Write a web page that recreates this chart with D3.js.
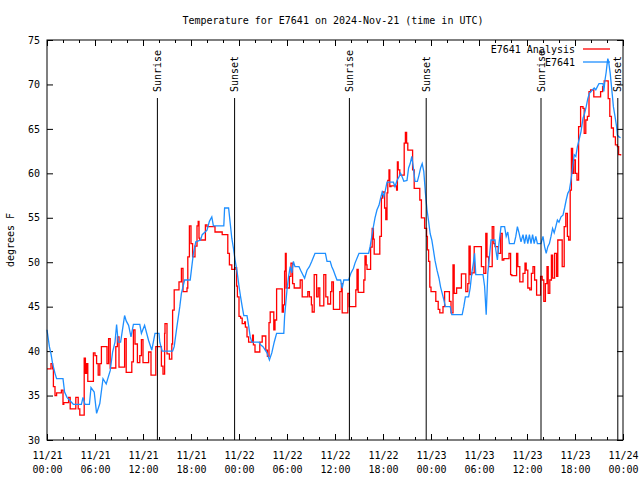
<!DOCTYPE html>
<html>
<head>
<meta charset="utf-8">
<script src="https://cdn.jsdelivr.net/npm/d3@7"></script>
<style>
  body { margin: 0; background: #fff; }
  svg text { font-family: "DejaVu Sans Mono", monospace; font-size: 10px; fill: #000; }
</style>
</head>
<body>
<div id="chart"></div>
<script>
// hours after 2024-11-21 00:00 UTC, degrees F
const analysis = [
  [0,38],[0.5,38.6],[0.7,38],[0.8,36],[1,35],[1.2,35.3],[1.8,35.6],[2.0,34],[2.1,34.2],[2.7,34.8],
  [2.9,33.5],[3.6,34.8],[3.9,33.5],[4.1,32.8],[4.65,39.2],[4.8,37.5],[4.95,38.6],[5.1,36.6],[5.8,39.8],
  [6.0,39.5],[6.2,38.6],[6.4,37.3],[6.6,38.6],[6.8,40.5],[7.3,40.5],[7.5,38.6],[7.7,41.4],[7.9,38.1],
  [8.5,38.1],[8.6,40.5],[8.8,41.6],[9.0,38.2],[9.6,38.2],[9.7,41.4],[9.9,37.6],[10.5,37.6],[10.6,38.8],
  [10.8,42.4],[11.0,40.8],[11.3,38.7],[11.6,39.5],[11.8,41.3],[12.0,38.7],[12.7,39.9],[13.0,37.3],
  [13.6,40.5],[14.3,38.3],[14.5,37.4],[14.7,42],[14.75,43.1],[15,39.7],[15.3,39.1],[15.6,40.8],
  [15.7,44.6],[15.9,46.9],[16.5,47.8],[16.8,49.3],[17.0,46.7],[17.5,47.1],[17.6,50.6],[17.8,54.1],
  [18,52.1],[18.2,50.6],[18.5,51.8],[18.75,54.1],[18.9,54.6],[19,52.7],[19.1,52.5],[19.8,54.2],
  [20,54],[21,53.4],[21.9,53.1],[22.6,51],[22.8,49.7],[23.1,49.2],[23.5,49.4],[23.7,47.3],[23.8,46.1],
  [24,43.9],[24.2,43.7],[24.4,43.1],[24.7,43.3],[24.8,42.7],[25,41.6],[25.2,41],[25.7,41.8],[25.8,40.7],
  [26,39.9],[26.6,41],[26.9,41.7],[27.35,40.1],[27.55,39.4],[27.75,43.2],[27.9,44.4],[28.35,42.4],
  [28.5,43.5],[28.7,47],[29.4,44.4],[29.55,45.2],[29.7,49],[29.8,51],[29.9,47.1],[30.3,48.4],[30.5,49.9],
  [30.7,47.6],[30.9,47.1],[31.65,48],[31.9,46.1],[32.6,46.7],[32.8,46.1],[33.05,45.2],[33.15,44.4],
  [33.4,48.6],[33.7,46.1],[33.9,47.1],[34.1,45.1],[34.6,48.6],[34.85,46.1],[35.1,45.3],[35.45,46.7],
  [35.6,47.8],[35.8,44.7],[36.6,46.7],[36.8,47.6],[36.9,44.3],[37.6,46.5],[37.8,45],[38.6,46.9],
  [38.75,49.2],[38.9,46.6],[39.6,48],[39.75,50.7],[39.9,49.7],[40,49.2],[40.45,51.7],[40.65,53.8],
  [40.8,52.6],[40.9,50.9],[41.6,52.9],[41.8,57.2],[41.95,57.9],[42.2,56.1],[42.35,54.8],[42.5,57.8],
  [42.6,59.2],[42.75,60.4],[42.85,58.5],[43,58.6],[43.7,58.1],[43.8,61.3],[43.9,60.4],[44.1,59.8],
  [44.65,63.4],[44.8,64.6],[44.95,63.4],[45.1,62.6],[45.7,60.4],[45.9,58.3],[46.6,57],[46.8,55],
  [47.2,53.8],[47.45,52.9],[47.55,51.4],[47.7,50.1],[47.85,47.2],[48,46.7],[48.6,45.6],[48.9,44.7],
  [49.1,44.3],[49.5,45],[49.7,46.7],[50.3,45.6],[50.5,44.3],[50.75,49.7],[50.9,46.5],[51.2,47.1],
  [51.8,48.7],[52.35,46.7],[52.6,47.6],[52.75,51.8],[52.9,48.6],[53.1,48.8],[53.4,51.75],[54.3,49.5],
  [54.6,48.75],[54.85,53.25],[55,50.6],[55.2,49.5],[55.65,54],[55.85,52.1],[56,51.75],[56.4,51],
  [56.7,53.25],[56.9,50.25],[57.1,50.4],[57.75,51],[57.95,48.6],[58.1,48.5],[58.7,51],[58.85,49.5],
  [59.1,47.8],[59.5,48.75],[59.75,49.9],[59.9,49.1],[60.1,47.1],[60.35,46.9],[60.55,48.75],[60.75,49.5],
  [60.95,48],[61.2,46.3],[61.7,48.4],[61.9,48],[62.1,45.6],[62.3,47.6],[62.5,49.5],[62.65,46.5],
  [62.85,48],[63.05,50.8],[63.2,48.2],[63.45,51],[63.7,48.4],[63.85,52.5],[64.4,49.5],[64.65,54],
  [64.85,55.5],[65.05,52.9],[65.2,52.5],[65.4,58.1],[65.55,62.8],[65.7,60],[65.85,61.5],[66.05,60],
  [66.25,59.25],[66.45,65.25],[66.7,67.5],[67,67.3],[67.15,64.5],[67.35,66],[67.55,66.4],[67.75,69.2],
  [67.95,69.4],[68.35,68.6],[69.2,69.2],[69.45,69.75],[69.65,70.4],[70.15,68.4],[70.35,66.4],
  [70.55,65.1],[70.8,64.1],[71.05,63.2],[71.3,63],[71.45,62.1],[71.7,62]
];

const observed = [
  [0,42.4],[0.3,40.5],[0.5,39.7],[0.7,38.6],[1,37.5],[1.2,36.9],[2,36.9],[2.2,35.4],[2.5,34.8],
  [3.2,34.1],[3.3,34.0],[4.3,34.0],[4.5,34.8],[4.75,34.0],[5.3,34.0],[5.5,35.9],[5.9,35.4],[6.2,33],
  [6.6,34.1],[7,36.9],[7.4,36.3],[7.9,37.8],[8.2,39.9],[8.5,41],[8.7,43],[8.9,41],[9.2,41],[9.4,42.2],
  [9.7,44],[9.9,43.4],[10.2,42.9],[10.5,41.6],[10.8,43],[11.6,43],[11.8,42],[12.2,42.9],[12.7,41.2],
  [13.1,40.1],[13.5,42],[14,42],[14.1,41],[14.4,40],[15.7,40],[15.9,40.5],[16.2,42.5],[16.6,45],
  [16.8,46.5],[17.2,48],[17.9,48],[18.1,49.5],[18.3,51],[18.6,52.3],[19.2,52.5],[19.4,53.1],[20,53.6],
  [20.3,54.6],[20.6,55.1],[20.8,54.1],[22.1,54.1],[22.2,56.1],[22.7,56.1],[22.9,54.4],[23.1,52.7],
  [23.3,51.6],[23.5,50.3],[23.75,49],[24,47.3],[24.2,46.1],[24.4,45],[24.6,44],[25,44],[25.2,42.9],
  [25.4,41.6],[25.6,41],[26.5,41],[26.7,40.7],[27,40.5],[27.5,39.8],[27.8,39],[28.1,39.8],[28.4,41],
  [28.7,42],[29.6,42],[29.7,43.9],[30,46.9],[30.2,48.4],[30.4,49.5],[30.6,48.8],[30.8,50.1],[31,49.5],
  [31.5,49.5],[31.7,49.1],[32.2,48.2],[32.5,49.1],[32.8,49.5],[33.1,50.1],[33.5,51],[34.8,51],
  [35,50.1],[35.4,50.1],[35.6,49.5],[35.8,49.1],[36,48.6],[36.25,48],[36.7,48],[36.9,47.1],[37.1,48],
  [37.7,48],[38,48.8],[38.3,49.3],[38.5,49.9],[39,51],[40.2,51],[40.4,51.8],[40.6,52.9],[40.8,54],
  [41,55],[41.25,55.9],[41.5,56.4],[41.7,57.2],[41.9,57.9],[42.1,57.4],[42.3,58.1],[42.5,59],
  [43.3,59],[43.5,58.5],[43.75,59.2],[44,59.6],[44.2,60],[44.4,59.6],[44.6,59.1],[45,59.2],
  [45.2,60.6],[45.4,61.1],[45.6,61.9],[45.8,60.6],[46,59.1],[46.3,59.1],[46.5,59.8],[46.7,60.6],
  [46.9,61.1],[47.1,60.2],[47.3,57.8],[47.5,55.9],[47.7,54.6],[47.9,53.2],[48.1,52.5],[48.3,51.4],
  [48.5,50.2],[48.75,49.1],[49,48.2],[49.2,47.2],[49.4,46.5],[49.6,45.8],[49.8,45],[50.4,45],
  [50.6,44.1],[51.9,44.1],[52.1,45],[52.3,46.1],[52.7,46.1],[52.9,47.1],[53.1,48.8],[53.3,49.9],
  [53.45,51],[53.6,48.6],[54.5,48.6],[54.7,47.3],[54.9,44.1],[55.1,48.75],[55.3,50.6],[55.5,52.5],
  [56,52.5],[56.1,51.4],[56.3,50.25],[56.5,52.1],[56.75,54],[57.2,54],[57.4,52.9],[57.6,53.4],
  [57.8,52.1],[58.4,52.1],[58.6,52.9],[58.8,54],[59,53.3],[59.25,52.3],[59.5,53.1],[59.7,52.1],
  [59.9,53.1],[60.1,52.1],[60.3,53.1],[60.5,52.1],[60.7,53.1],[60.9,52.1],[61.1,52.9],[61.3,52.1],
  [61.75,52.1],[62,52.9],[62.2,51.75],[62.4,51],[62.6,51.75],[62.8,52.1],[63,52.9],[63.2,53.8],
  [63.4,53.3],[63.6,54],[63.8,54.75],[64,54.5],[64.25,55.1],[64.5,55.3],[64.7,56.1],[64.9,57],
  [65.1,57.75],[65.3,58.1],[65.5,59.25],[65.7,60.6],[65.9,62.1],[66.1,61.9],[66.3,63],[66.5,63.75],
  [66.75,64.7],[67,66.2],[67.2,66.75],[67.4,67.5],[67.6,68.4],[67.8,69],[68.2,69.4],[68.4,69.6],
  [68.6,69.4],[68.8,69.75],[69,70.1],[69.5,70.1],[69.6,69.2],[69.75,70.5],[69.9,71.4],[70,72.2],
  [70.1,72.9],[70.2,72.6],[70.4,71.25],[70.6,69.4],[70.8,67.5],[71,66.4],[71.2,65.25],[71.3,64.3],
  [71.5,64.1],[71.7,64]
];

const sunEvents = [
  ["Sunrise", 13.8], ["Sunset", 23.45], ["Sunrise", 37.8],
  ["Sunset", 47.4], ["Sunrise", 61.75], ["Sunset", 71.35]
];
const yTicks = [30, 35, 40, 45, 50, 55, 60, 65, 70, 75];
const seriesNames = ["E7641 Analysis", "E7641"];
const seriesColors = ["#ff0000", "#1e8fff"];

const w = 640, h = 480;
const pLeft = 47, pRight = 623, pTop = 40, pBottom = 440;
const t0 = Date.UTC(2024, 10, 21);
const hr = 3600 * 1000;
const toDate = hrs => new Date(t0 + hrs * hr);

const svg = d3.select("#chart").append("svg")
  .attr("width", w).attr("height", h);

const x = d3.scaleUtc().domain([toDate(0), toDate(72)]).range([pLeft, pRight]);
const y = d3.scaleLinear().domain([30, 75]).range([pBottom, pTop]);

// title and y label
svg.append("text")
  .attr("x", 333).attr("y", 24)
  .attr("text-anchor", "middle")
  .text("Temperature for E7641 on 2024-Nov-21 (time in UTC)");
svg.append("text")
  .attr("transform", `translate(14,${(pTop + pBottom) / 2}) rotate(-90)`)
  .attr("text-anchor", "middle")
  .text("degrees F");

// axes (gnuplot style ticks inside)
const majorTicks = d3.utcHour.every(6).range(toDate(0), toDate(72.01));
const minorTicks = d3.utcHour.every(2).range(toDate(0), toDate(72.01));

svg.append("g").attr("transform", `translate(0,${pBottom})`)
  .call(d3.axisBottom(x).tickValues(minorTicks).tickSize(-3).tickFormat(""))
  .call(g => g.select(".domain").remove());
svg.append("g").attr("transform", `translate(0,${pTop})`)
  .call(d3.axisTop(x).tickValues(minorTicks).tickSize(-3).tickFormat(""))
  .call(g => g.select(".domain").remove());
svg.append("g").attr("transform", `translate(0,${pTop})`)
  .call(d3.axisTop(x).tickValues(majorTicks).tickSize(-6).tickFormat(""))
  .call(g => g.select(".domain").remove());

const xAxis = svg.append("g").attr("transform", `translate(0,${pBottom})`)
  .call(d3.axisBottom(x).tickValues(majorTicks).tickSize(-6).tickPadding(0))
  .call(g => g.select(".domain").remove());
xAxis.selectAll(".tick text").each(function(d) {
  const t = d3.select(this).text("").attr("y", 0).attr("dy", null);
  t.append("tspan").attr("x", 0).attr("y", 19).text(d3.utcFormat("%m/%d")(d));
  t.append("tspan").attr("x", 0).attr("y", 33).text(d3.utcFormat("%H:%M")(d));
});

svg.append("g").attr("transform", `translate(${pLeft},0)`)
  .call(d3.axisLeft(y).tickValues(yTicks).tickSize(-6).tickPadding(7))
  .call(g => g.select(".domain").remove());
svg.append("g").attr("transform", `translate(${pRight},0)`)
  .call(d3.axisRight(y).tickValues(yTicks).tickSize(-6).tickFormat(""))
  .call(g => g.select(".domain").remove());

svg.selectAll(".tick line").attr("stroke", "#000");
svg.selectAll(".tick text").style("font-family", "'DejaVu Sans Mono', monospace").style("font-size", "10px");

// data lines: analysis drawn as steps, observations joined straight
const stepLine = d3.line()
  .x(d => x(toDate(d[0])))
  .y(d => y(d[1]))
  .curve(d3.curveStepAfter);
const obsLine = d3.line()
  .x(d => x(toDate(d[0])))
  .y(d => y(d[1]));

[[analysis, stepLine], [observed, obsLine]].forEach(([s, gen], i) => {
  svg.append("path")
    .datum(s)
    .attr("fill", "none")
    .attr("stroke", seriesColors[i])
    .attr("stroke-width", 1.3)
    .attr("d", gen);
});

// sunrise / sunset markers
const ev = svg.selectAll(".ev").data(sunEvents).enter().append("g");
ev.append("line")
  .attr("x1", d => x(toDate(d[1]))).attr("x2", d => x(toDate(d[1])))
  .attr("y1", 98).attr("y2", pBottom)
  .attr("stroke", "#000").attr("stroke-width", 1);
ev.append("text")
  .attr("transform", d => `translate(${x(toDate(d[1]))},92) rotate(-90)`)
  .attr("dy", "0.35em")
  .text(d => d[0]);

// border
svg.append("rect")
  .attr("x", pLeft).attr("y", pTop)
  .attr("width", pRight - pLeft).attr("height", pBottom - pTop)
  .attr("fill", "none").attr("stroke", "#000").attr("stroke-width", 1);

// legend
seriesNames.forEach((name, i) => {
  const ly = 49 + i * 13;
  svg.append("text")
    .attr("x", 575).attr("y", ly).attr("dy", "0.35em")
    .attr("text-anchor", "end")
    .text(name);
  svg.append("line")
    .attr("x1", 583).attr("x2", 610)
    .attr("y1", ly).attr("y2", ly)
    .attr("stroke", seriesColors[i]).attr("stroke-width", 1.3);
});
</script>
</body>
</html>
